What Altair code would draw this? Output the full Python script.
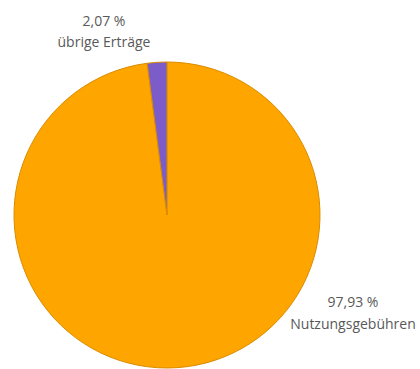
import altair as alt
import pandas as pd

categories = ["Nutzungsgebühren", "übrige Erträge"]
values = [97.93, 2.07]
labels = ["97,93 %", "2,07 %"]
colors = ["#FFA500", "#7B5CC8"]

df = pd.DataFrame({"category": categories, "value": values, "pct": labels})

base = alt.Chart(df)

pie = base.mark_arc(radius=153, stroke="#D98C00", strokeWidth=1).encode(
    theta=alt.Theta("value:Q", stack=True),
    order=alt.Order("category:N", sort="ascending"),
    color=alt.Color("category:N", scale=alt.Scale(domain=categories, range=colors), legend=None),
    x=alt.value(167),
    y=alt.value(215),
)

def label(cat, x, y1, y2):
    sub = base.transform_filter(alt.datum.category == cat)
    style = dict(font="Open Sans", fontSize=14, color="#595959", align="center", baseline="middle")
    t1 = sub.mark_text(**style).encode(text="pct:N", x=alt.value(x), y=alt.value(y1))
    t2 = sub.mark_text(**style).encode(text="category:N", x=alt.value(x), y=alt.value(y2))
    return t1 + t2

chart = alt.layer(
    pie,
    label("übrige Erträge", 104, 22, 43),
    label("Nutzungsgebühren", 353, 303, 325),
).properties(
    width=420, height=369, padding=0,
    autosize=alt.AutoSizeParams(type="none"),
).configure_view(stroke=None)

chart.save("out.html", embed_options={"renderer": "svg", "actions": False})
